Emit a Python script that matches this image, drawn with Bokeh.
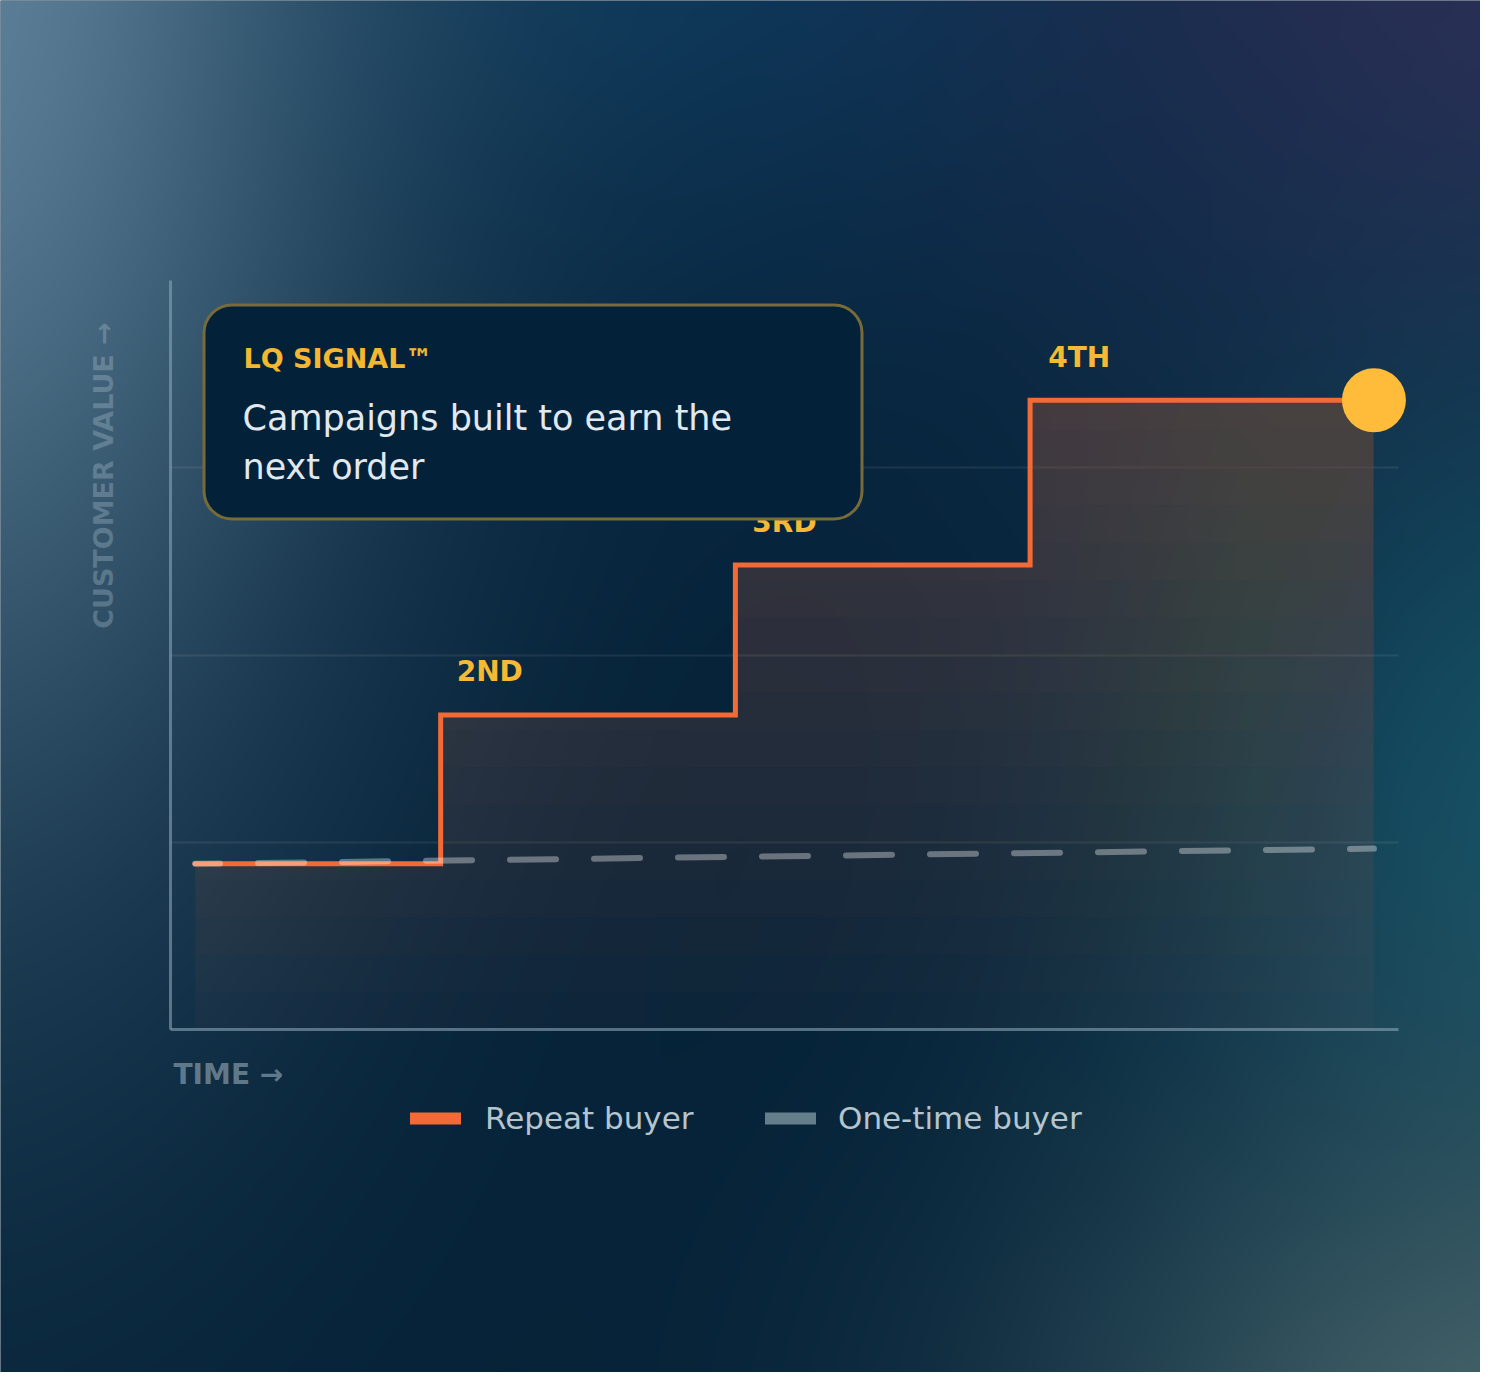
import numpy as np
from bokeh.plotting import figure
from bokeh.models import (Range1d, LinearAxis, FixedTicker, Grid, BoxAnnotation,
                          Label, Legend, LegendItem)
from bokeh.core.properties import value
from bokeh.embed import file_html
from bokeh.resources import INLINE

# ---------------- data ----------------
order_labels = ["2ND", "3RD", "4TH"]
repeat_x = [2, 22, 46, 70, 98]
repeat_y = [0.885, 1.68, 2.48, 3.36, 3.36]
onetime_x = [2, 98]
onetime_y = [0.885, 0.966]
legend_labels = ["Repeat buyer", "One-time buyer"]
y_label = "CUSTOMER VALUE →"
x_label = "TIME →"
card_kicker = "LQ SIGNAL™"
card_lines = ["Campaigns built to earn the", "next order"]
grid_levels = [1, 2, 3]

# ---------------- layout helpers (reference pixel -> data) ----------------
W, H = 1480, 1372
OX, OY = 0, 0
X_PX0, X_SCALE = 170.0, 12.28
Y_PX0, Y_SCALE = 1029.0, 187.25
BASE_FIX = 10  # rendered alphabetic baseline sits ~10px low


def fx(px):
    return (px - X_PX0) / X_SCALE


def fy(py):
    return (Y_PX0 - py) / Y_SCALE


ORANGE = "#f36a37"
GOLD = "#f7b933"
DOT = "#febc3a"
FONT = "DejaVu Sans"

p = figure(width=W, height=H, output_backend="svg", toolbar_location=None,
           x_range=Range1d(fx(OX), fx(OX + W)), y_range=Range1d(fy(OY + H), fy(OY)),
           x_axis_type=None, y_axis_type=None, min_border=0,
           outline_line_color=None, background_fill_color="#04233a",
           border_fill_color="#04233a")
p.grid.visible = False

# ---------------- background gradient ----------------
Wi, Hi = W // 2, H // 2
u = OX + (np.arange(Wi) + 0.5) * W / Wi
v = OY + (np.arange(Hi) + 0.5) * H / Hi
U, V = np.meshgrid(u, v)
col = np.zeros((Hi, Wi, 3)) + np.array([4, 33, 55], float)
blobs = [
    ((740, -140), (10, 56, 90), 520, 420),
    ((-60, -60), (92, 128, 152), 420, 900),
    ((1580, -80), (44, 46, 86), 560, 500),
    ((1580, 820), (22, 80, 100), 400, 480),
    ((1580, 1480), (70, 100, 106), 520, 400),
]
for (cx, cy), c, sx, sy in blobs:
    w = np.exp(-(((U - cx) / sx) ** 2 + ((V - cy) / sy) ** 2))[..., None]
    col = col * (1 - w) + np.array(c, float) * w
rgba = np.empty((Hi, Wi, 4), dtype=np.uint8)
rgba[..., :3] = np.clip(col, 0, 255).astype(np.uint8)
rgba[..., 3] = 255
img = rgba[::-1].copy().view(dtype=np.uint32).reshape((Hi, Wi))
p.image_rgba(image=[img], x=fx(OX), y=fy(OY + H), dw=W / X_SCALE, dh=H / Y_SCALE,
             level="image")

# ---------------- grid & axes ----------------
p.add_layout(Grid(dimension=1, ticker=FixedTicker(ticks=grid_levels), cross_bounds=(0, 100),
                  grid_line_color="#ffffff", grid_line_alpha=0.08, grid_line_width=2))

ax_style = dict(ticker=FixedTicker(ticks=[]), major_tick_line_color=None,
                minor_tick_line_color=None, major_label_text_font_size="0px",
                major_tick_out=0, major_tick_in=0, minor_tick_out=0, minor_tick_in=0,
                axis_line_color="#8aa3b5", axis_line_alpha=0.6, axis_line_width=3)
p.add_layout(LinearAxis(fixed_location=0, bounds=(0, 4), **ax_style), "left")
p.add_layout(LinearAxis(fixed_location=0, bounds=(0, 100), **ax_style), "below")

# ---------------- area fill (vertical fade) ----------------
xs = np.array(repeat_x, float)
ys = np.array(repeat_y, float)
FILL = "#f06e5a"
p.varea_step(x=xs, y1=np.zeros_like(ys), y2=ys, step_mode="after",
             fill_color=FILL, fill_alpha=0.04)
for h in np.arange(0.2, 3.4, 0.2):
    p.varea_step(x=xs, y1=np.minimum(h, ys), y2=ys, step_mode="after",
                 fill_color=FILL, fill_alpha=0.015)

# ---------------- lines ----------------
p.step(x=repeat_x, y=repeat_y, mode="after", line_color=ORANGE, line_width=5,
       line_join="miter", line_cap="round")
p.line(x=onetime_x, y=onetime_y, line_color="#ffffff", line_alpha=0.35, line_width=6,
       line_dash="46 38", line_dash_offset=21, line_cap="round")
p.scatter(x=[repeat_x[-1]], y=[repeat_y[-1]], size=64, fill_color=DOT, line_color=None)

# ---------------- order labels ----------------
lx = [repeat_x[i] + 4.0 for i in range(1, 4)]
ly = [repeat_y[i] + (33 + BASE_FIX) / Y_SCALE for i in range(1, 4)]
p.text(x=lx, y=ly, text=order_labels, text_align="center", text_baseline="alphabetic",
       text_font=value(FONT), text_font_size="28px", text_font_style="bold",
       text_color=GOLD)

# ---------------- axis titles ----------------
p.text(x=[fx(113 - BASE_FIX)], y=[fy(475)], text=[y_label], angle=np.pi / 2,
       text_align="center", text_baseline="alphabetic", text_font=value(FONT),
       text_font_size="27px", text_font_style="bold", text_color="#c5d6e2",
       text_alpha=0.28)
p.text(x=[fx(173)], y=[fy(1084 - BASE_FIX)], text=[x_label], text_align="left",
       text_baseline="alphabetic", text_font=value(FONT), text_font_size="28px",
       text_font_style="bold", text_color="#5f798a")

# ---------------- card ----------------
p.add_layout(BoxAnnotation(left=fx(203.5), right=fx(861.5), top=fy(304.5), bottom=fy(518.5),
                           fill_color="#03223a", fill_alpha=1.0, line_color="#776b3a",
                           line_alpha=1.0, line_width=3, border_radius=28))
p.add_layout(Label(x=fx(243), y=fy(368 - BASE_FIX), text=card_kicker, text_font=FONT,
                   text_font_size="27px", text_font_style="bold", text_color="#f5b72f",
                   text_baseline="alphabetic"))
for txt, base in zip(card_lines, [427, 476]):
    p.add_layout(Label(x=fx(242), y=fy(base - BASE_FIX), text=txt, text_font=FONT,
                       text_font_size="35px", text_color="#e2e9ee",
                       text_baseline="alphabetic"))

# ---------------- legend ----------------
leg_colors = [ORANGE, "#647e8c"]
leg_left = [410, 765]
leg_standoff = [24, 22]
for lab, c, lft, so in zip(legend_labels, leg_colors, leg_left, leg_standoff):
    r = p.line(x=np.array([np.nan]), y=np.array([np.nan]), line_color=c,
               line_width=12, line_cap="round")
    leg = Legend(items=[LegendItem(label=lab, renderers=[r])],
                 location=(lft - OX, (OY + H) - 1136.5),
                 glyph_width=51, glyph_height=38, label_height=38, label_standoff=so,
                 padding=0, margin=0, border_line_color=None, background_fill_alpha=0,
                 label_text_font=FONT, label_text_font_size="31px",
                 label_text_color="#b5c4cd")
    p.add_layout(leg, "center")

open("out.html", "w").write(file_html(p, INLINE))
